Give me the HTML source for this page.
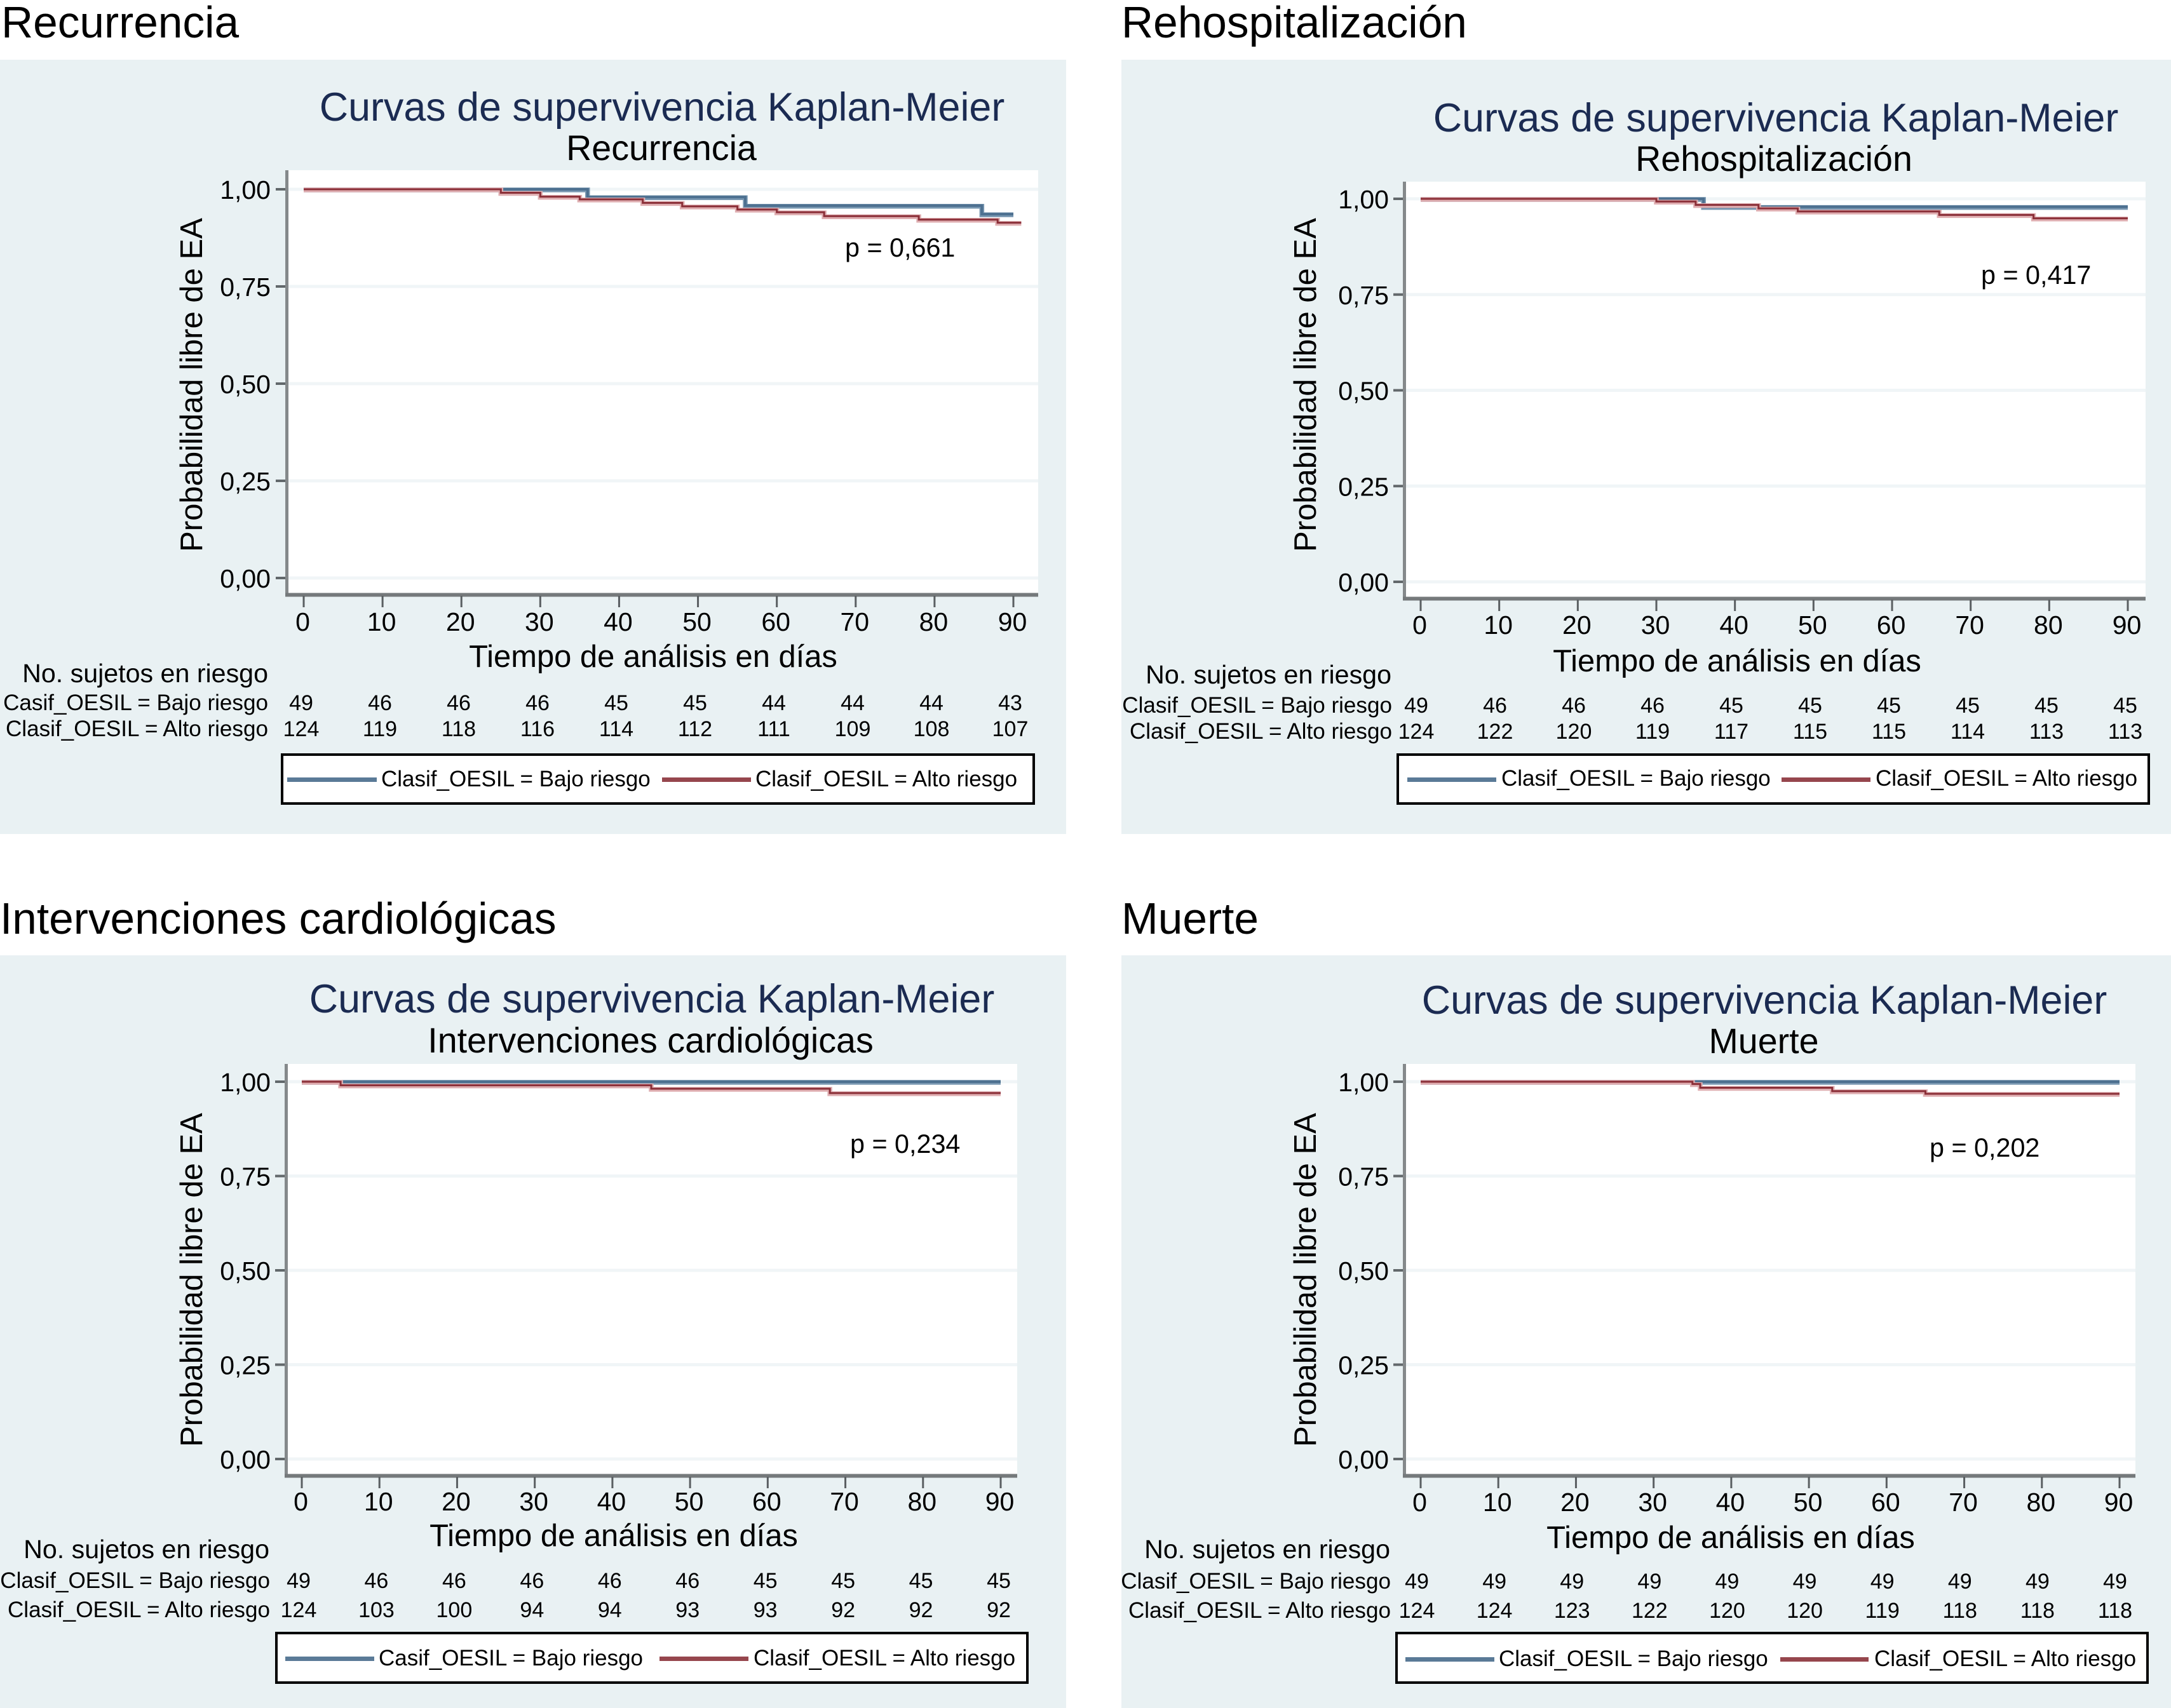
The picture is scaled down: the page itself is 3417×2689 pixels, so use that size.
<!DOCTYPE html>
<html lang="es">
<head>
<meta charset="utf-8">
<title>Curvas de supervivencia Kaplan-Meier</title>
<style>
html,body{margin:0;padding:0;background:#fff;}
svg{display:block;font-family:"Liberation Sans",Arial,sans-serif;fill:#000;}
.heading{font-size:69.4px;}
.title{font-size:62.8px;fill:#1b2b52;text-anchor:middle;}
.subtitle{font-size:55.6px;text-anchor:middle;}
.ytitle{font-size:49px;text-anchor:middle;}
.xtitle{font-size:48.9px;text-anchor:middle;}
.tick{font-size:41px;}
.note{font-size:41.3px;}
.risk-head{font-size:41.2px;text-anchor:end;}
.risk-label{font-size:35.1px;text-anchor:end;}
.risk-num{font-size:34px;text-anchor:middle;}
.legend-text{font-size:35px;}
</style>
</head>
<body>
<svg id="figure" xmlns="http://www.w3.org/2000/svg" width="3417" height="2689" viewBox="0 0 3417 2689">
  <rect x="0" y="0" width="3417" height="2689" fill="#ffffff"/>

  <g id="panel-recurrencia">
    <text class="heading" x="2" y="59">Recurrencia</text>
    <rect x="0" y="94" width="1678" height="1219" fill="#e9f1f3"/>
    <text class="title" x="1042" y="190">Curvas de supervivencia Kaplan-Meier</text>
    <text class="subtitle" x="1041" y="252">Recurrencia</text>
    <rect x="451" y="268" width="1183" height="668" fill="#ffffff"/>
    <g class="marks"></g>
    <text class="ytitle" transform="rotate(-90 318 606)" x="318" y="606">Probabilidad libre de EA</text>
    <text class="xtitle" x="1028" y="1050">Tiempo de análisis en días</text>
    <text class="note" x="1330" y="404">p = 0,661</text>
    <text class="risk-head" x="422" y="1074">No. sujetos en riesgo</text>
    <text class="risk-label" x="422" y="1118">Casif_OESIL = Bajo riesgo</text>
    <text class="risk-label" x="422" y="1159">Clasif_OESIL = Alto riesgo</text>
    <g>
      <rect x="444" y="1188" width="1183" height="77" fill="#ffffff" stroke="#000" stroke-width="4"/>
      <rect x="452" y="1224" width="141" height="7" fill="#5a7a97"/>
      <text class="legend-text" x="600" y="1238">Clasif_OESIL = Bajo riesgo</text>
      <rect x="1042" y="1224" width="140" height="7" fill="#96464d"/>
      <text class="legend-text" x="1189" y="1238">Clasif_OESIL = Alto riesgo</text>
    </g>
  </g>

  <g id="panel-rehospitalizacion">
    <text class="heading" x="1765" y="59">Rehospitalización</text>
    <rect x="1765" y="94" width="1652" height="1219" fill="#e9f1f3"/>
    <text class="title" x="2795" y="207">Curvas de supervivencia Kaplan-Meier</text>
    <text class="subtitle" x="2792" y="269">Rehospitalización</text>
    <rect x="2210" y="286" width="1167" height="656" fill="#ffffff"/>
    <g class="marks"></g>
    <text class="ytitle" transform="rotate(-90 2071 606)" x="2071" y="606">Probabilidad libre de EA</text>
    <text class="xtitle" x="2734" y="1057">Tiempo de análisis en días</text>
    <text class="note" x="3118" y="447">p = 0,417</text>
    <text class="risk-head" x="2190" y="1076">No. sujetos en riesgo</text>
    <text class="risk-label" x="2191" y="1122">Clasif_OESIL = Bajo riesgo</text>
    <text class="risk-label" x="2191" y="1163">Clasif_OESIL = Alto riesgo</text>
    <g>
      <rect x="2200" y="1188" width="1182" height="77" fill="#ffffff" stroke="#000" stroke-width="4"/>
      <rect x="2215" y="1224" width="140" height="7" fill="#5a7a97"/>
      <text class="legend-text" x="2363" y="1237">Clasif_OESIL = Bajo riesgo</text>
      <rect x="2804" y="1224" width="140" height="7" fill="#96464d"/>
      <text class="legend-text" x="2952" y="1237">Clasif_OESIL = Alto riesgo</text>
    </g>
  </g>

  <g id="panel-intervenciones">
    <text class="heading" x="0" y="1470">Intervenciones cardiológicas</text>
    <rect x="0" y="1504" width="1678" height="1185" fill="#e9f1f3"/>
    <text class="title" x="1026" y="1594">Curvas de supervivencia Kaplan-Meier</text>
    <text class="subtitle" x="1024" y="1657">Intervenciones cardiológicas</text>
    <rect x="450" y="1675" width="1151" height="648" fill="#ffffff"/>
    <g class="marks"></g>
    <text class="ytitle" transform="rotate(-90 318 2015)" x="318" y="2015">Probabilidad libre de EA</text>
    <text class="xtitle" x="966" y="2434">Tiempo de análisis en días</text>
    <text class="note" x="1338" y="1815">p = 0,234</text>
    <text class="risk-head" x="424" y="2453">No. sujetos en riesgo</text>
    <text class="risk-label" x="425" y="2500">Clasif_OESIL = Bajo riesgo</text>
    <text class="risk-label" x="425" y="2546">Clasif_OESIL = Alto riesgo</text>
    <g>
      <rect x="435" y="2571" width="1182" height="78" fill="#ffffff" stroke="#000" stroke-width="4"/>
      <rect x="449" y="2608" width="140" height="7" fill="#5a7a97"/>
      <text class="legend-text" x="596" y="2622">Casif_OESIL = Bajo riesgo</text>
      <rect x="1038" y="2608" width="140" height="7" fill="#96464d"/>
      <text class="legend-text" x="1186" y="2622">Clasif_OESIL = Alto riesgo</text>
    </g>
  </g>

  <g id="panel-muerte">
    <text class="heading" x="1765" y="1470">Muerte</text>
    <rect x="1765" y="1504" width="1652" height="1185" fill="#e9f1f3"/>
    <text class="title" x="2777" y="1596">Curvas de supervivencia Kaplan-Meier</text>
    <text class="subtitle" x="2776" y="1658">Muerte</text>
    <rect x="2210" y="1675" width="1151" height="648" fill="#ffffff"/>
    <g class="marks"></g>
    <text class="ytitle" transform="rotate(-90 2071 2015)" x="2071" y="2015">Probabilidad libre de EA</text>
    <text class="xtitle" x="2724" y="2437">Tiempo de análisis en días</text>
    <text class="note" x="3037" y="1821">p = 0,202</text>
    <text class="risk-head" x="2188" y="2453">No. sujetos en riesgo</text>
    <text class="risk-label" x="2189" y="2501">Clasif_OESIL = Bajo riesgo</text>
    <text class="risk-label" x="2189" y="2547">Clasif_OESIL = Alto riesgo</text>
    <g>
      <rect x="2198" y="2571" width="1182" height="78" fill="#ffffff" stroke="#000" stroke-width="4"/>
      <rect x="2212" y="2609" width="140" height="7" fill="#5a7a97"/>
      <text class="legend-text" x="2359" y="2623">Clasif_OESIL = Bajo riesgo</text>
      <rect x="2802" y="2609" width="139" height="7" fill="#96464d"/>
      <text class="legend-text" x="2950" y="2623">Clasif_OESIL = Alto riesgo</text>
    </g>
  </g>
</svg>

<script>
// Shared axis values and tick labels
const xTickValues = [0, 10, 20, 30, 40, 50, 60, 70, 80, 90];
const yTickValues = [1, 0.75, 0.5, 0.25, 0];
const yTickLabels = ['1,00', '0,75', '0,50', '0,25', '0,00'];

// Recurrencia
const recurrenciaBajoDays = [0, 36, 56, 86, 90];
const recurrenciaBajoSurvival = [1, 0.98, 0.958, 0.936, 0.936];
const recurrenciaAltoDays = [0, 25, 30, 35, 43, 48, 55, 60, 66, 78, 88, 91];
const recurrenciaAltoSurvival = [1, 0.991, 0.981, 0.974, 0.965, 0.956, 0.948, 0.941, 0.931, 0.922, 0.914, 0.914];
const recurrenciaBajoAtRisk = [49, 46, 46, 46, 45, 45, 44, 44, 44, 43];
const recurrenciaAltoAtRisk = [124, 119, 118, 116, 114, 112, 111, 109, 108, 107];

// Rehospitalizacion
const rehospBajoDays = [0, 36, 90];
const rehospBajoSurvival = [1, 0.979, 0.979];
const rehospAltoDays = [0, 30, 35, 43, 48, 66, 78, 90];
const rehospAltoSurvival = [1, 0.993, 0.984, 0.975, 0.967, 0.958, 0.949, 0.949];
const rehospBajoAtRisk = [49, 46, 46, 46, 45, 45, 45, 45, 45, 45];
const rehospAltoAtRisk = [124, 122, 120, 119, 117, 115, 115, 114, 113, 113];

// Intervenciones cardiologicas
const intervBajoDays = [0, 90];
const intervBajoSurvival = [1, 1];
const intervAltoDays = [0, 5, 45, 68, 90];
const intervAltoSurvival = [1, 0.9905, 0.9815, 0.97, 0.97];
const intervBajoAtRisk = [49, 46, 46, 46, 46, 46, 45, 45, 45, 45];
const intervAltoAtRisk = [124, 103, 100, 94, 94, 93, 93, 92, 92, 92];

// Muerte
const muerteBajoDays = [0, 90];
const muerteBajoSurvival = [1, 1];
const muerteAltoDays = [0, 35, 36, 53, 65, 90];
const muerteAltoSurvival = [1, 0.994, 0.984, 0.975, 0.968, 0.968];
const muerteBajoAtRisk = [49, 49, 49, 49, 49, 49, 49, 49, 49, 49];
const muerteAltoAtRisk = [124, 124, 123, 122, 120, 120, 119, 118, 118, 118];

const SVG_NS = 'http://www.w3.org/2000/svg';
function make(tag, attrs, parent) {
  const node = document.createElementNS(SVG_NS, tag);
  Object.keys(attrs).forEach(function (k) { node.setAttribute(k, attrs[k]); });
  parent.appendChild(node);
  return node;
}

function stepPath(days, survival, xAxis, yAxis) {
  let d = 'M' + xAxis(days[0]) + ' ' + yAxis(survival[0]);
  for (let i = 1; i < days.length; i++) {
    d += ' H' + xAxis(days[i]) + ' V' + yAxis(survival[i]);
  }
  return d;
}

function drawCurve(group, days, survival, xAxis, yAxis, color, haloColor, coreWidth, seriesName) {
  const path = stepPath(days, survival, xAxis, yAxis);
  const halo = make('path', { d: path, fill: 'none', stroke: haloColor, 'stroke-width': 7.5, transform: 'translate(0 1)' }, group);
  
  
  const line = make('path', { d: path, fill: 'none', stroke: color, 'stroke-width': coreWidth }, group);
  
  
}

function drawPanel(panelId, g, s) {
  const root = document.querySelector('#' + panelId + ' .marks');
  const xAxis = function (day) { return g.x0 + (day - 0) * (g.x90 - g.x0) / 90; };
  const yAxis = function (v) { return g.y0 - v * (g.y0 - g.y1); };

  yTickValues.forEach(function (v, i) {
    const y = yAxis(v);
    const grid = make('rect', { x: g.left, y: y - 2.5, width: g.right - g.left, height: 5, fill: '#f0f5f7' }, root);
    
    
    const tick = make('rect', { x: g.left - 17, y: y - 2, width: 17, height: 4, fill: '#62686b' }, root);
    
    
    const label = make('text', { x: g.yLabelRight + 1, y: y + 15, class: 'tick', 'text-anchor': 'end' }, root);
    label.textContent = yTickLabels[i];
    
    
  });

  const yLine = make('rect', { x: g.left - 2, y: g.top, width: 5, height: g.bottom - g.top + 3, fill: '#85898b' }, root);
  
  
  const xLine = make('rect', { x: g.left - 2, y: g.bottom - 2.5, width: g.right - g.left + 2, height: 6, fill: '#75797b' }, root);
  
  

  xTickValues.forEach(function (v) {
    const x = xAxis(v);
    const tick = make('rect', { x: x - 1.5, y: g.bottom + 2, width: 3, height: 18, fill: '#5a5f62' }, root);
    
    
    const label = make('text', { x: x - 1.5, y: g.xLabelY, class: 'tick', 'text-anchor': 'middle' }, root);
    label.textContent = String(v);
    
    
  });

  drawCurve(root, s.bajoDays, s.bajoSurv, xAxis, yAxis, '#4d7090', '#7a98b2', 4, 'bajo-riesgo');
  drawCurve(root, s.altoDays, s.altoSurv, xAxis, yAxis, '#8b2f38', '#dfaeb1', 3, 'alto-riesgo');

  const rows = [[s.bajoRisk, g.row1Y], [s.altoRisk, g.row2Y]];
  rows.forEach(function (row) {
    row[0].forEach(function (n, i) {
      const cx = g.num0 + i * (g.num9 - g.num0) / 9;
      const num = make('text', { x: cx, y: row[1], class: 'risk-num' }, root.parentNode);
      num.textContent = String(n);
      
      
    });
  });
}

drawPanel('panel-recurrencia',
  { left: 451, right: 1634, top: 268, bottom: 936, x0: 478, x90: 1595, y1: 298, y0: 910, yLabelRight: 425, xLabelY: 993, row1Y: 1118, row2Y: 1159, num0: 474, num9: 1590 },
  { bajoDays: recurrenciaBajoDays, bajoSurv: recurrenciaBajoSurvival, altoDays: recurrenciaAltoDays, altoSurv: recurrenciaAltoSurvival, bajoRisk: recurrenciaBajoAtRisk, altoRisk: recurrenciaAltoAtRisk });

drawPanel('panel-rehospitalizacion',
  { left: 2210, right: 3377, top: 286, bottom: 942, x0: 2236, x90: 3349, y1: 313, y0: 916, yLabelRight: 2185, xLabelY: 998, row1Y: 1122, row2Y: 1163, num0: 2229, num9: 3345 },
  { bajoDays: rehospBajoDays, bajoSurv: rehospBajoSurvival, altoDays: rehospAltoDays, altoSurv: rehospAltoSurvival, bajoRisk: rehospBajoAtRisk, altoRisk: rehospAltoAtRisk });

drawPanel('panel-intervenciones',
  { left: 450, right: 1601, top: 1675, bottom: 2323, x0: 475, x90: 1575, y1: 1703, y0: 2297, yLabelRight: 425, xLabelY: 2378, row1Y: 2500, row2Y: 2546, num0: 470, num9: 1572 },
  { bajoDays: intervBajoDays, bajoSurv: intervBajoSurvival, altoDays: intervAltoDays, altoSurv: intervAltoSurvival, bajoRisk: intervBajoAtRisk, altoRisk: intervAltoAtRisk });

drawPanel('panel-muerte',
  { left: 2210, right: 3361, top: 1675, bottom: 2323, x0: 2236, x90: 3336, y1: 1703, y0: 2297, yLabelRight: 2185, xLabelY: 2379, row1Y: 2501, row2Y: 2547, num0: 2230, num9: 3329 },
  { bajoDays: muerteBajoDays, bajoSurv: muerteBajoSurvival, altoDays: muerteAltoDays, altoSurv: muerteAltoSurvival, bajoRisk: muerteBajoAtRisk, altoRisk: muerteAltoAtRisk });
</script>
</body>
</html>
